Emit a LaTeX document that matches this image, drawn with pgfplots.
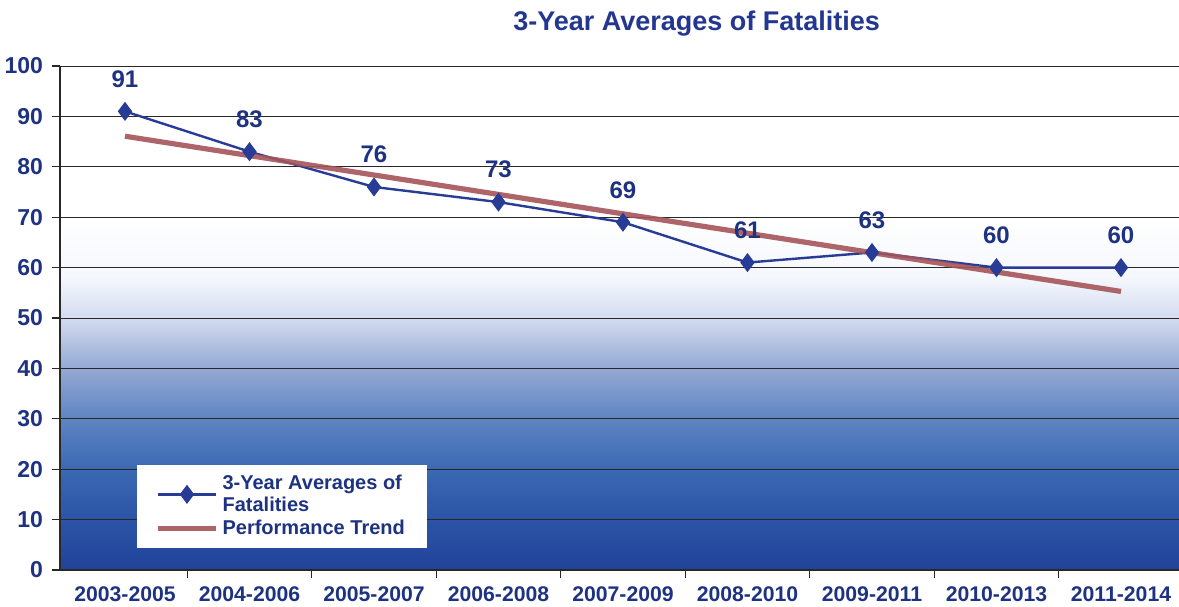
\documentclass[border=0pt]{standalone}
\usepackage{fontspec}
\setmainfont{Liberation Sans}
\usepackage{pgfplots}
\pgfplotsset{compat=1.18}

\definecolor{navy}{RGB}{30,50,130}
\definecolor{titleblue}{RGB}{35,55,145}
\definecolor{avgline}{RGB}{40,60,150}
\definecolor{trendred}{RGB}{165,85,90}
\definecolor{gridc}{RGB}{40,40,40}

% background fades from white (top) to deep blue (bottom); path maps to 25bp..75bp
\pgfdeclareverticalshading{bgfade}{100bp}{%
  rgb(0bp)=(0.13,0.26,0.60); rgb(25bp)=(0.13,0.26,0.60);
  rgb(30bp)=(0.17,0.33,0.65); rgb(35bp)=(0.23,0.41,0.70);
  rgb(40bp)=(0.37,0.52,0.76); rgb(45bp)=(0.58,0.66,0.83);
  rgb(50bp)=(0.83,0.86,0.94); rgb(54bp)=(0.96,0.97,0.99);
  rgb(60bp)=(1,1,1); rgb(100bp)=(1,1,1)}

\begin{document}
\begin{tikzpicture}
\begin{axis}[
  scale only axis,
  width=559.5pt, height=252pt,
  xmin=-0.522, xmax=8.466,
  ymin=0, ymax=100,
  axis lines*=left,
  axis line style={gridc, line width=0.6pt},
  axis background/.style={shade, shading=bgfade},
  xtick={0,...,8},
  xticklabels={2003-2005,2004-2006,2005-2007,2006-2008,2007-2009,2008-2010,2009-2011,2010-2013,2011-2014},
  major x tick style={draw=none},
  minor xtick={0.5,1.5,...,7.5},
  minor x tick style={gridc, line width=0.6pt},
  minor tick length=4pt,
  ytick={0,10,...,100},
  major tick length=4pt,
  tick align=outside,
  y tick style={gridc, line width=0.6pt},
  ymajorgrids=true,
  grid style={gridc, line width=0.5pt},
  /pgf/number format/assume math mode=true,
  tick label style={font=\bfseries, text=navy},
  yticklabel style={font=\fontsize{11.5}{13}\selectfont\bfseries, xshift=-1pt},
  xticklabel style={font=\fontsize{10.6}{12}\selectfont\bfseries, yshift=-1pt},
  title={3-Year Averages of Fatalities},
  title style={at={(axis description cs:0.569,1)}, anchor=center, yshift=15pt,
    font=\fontsize{13.5}{15}\selectfont\bfseries, text=titleblue},
  legend style={at={(axis description cs:0.0688,0.0437)}, anchor=south west,
    fill=white, draw=none, font=\fontsize{10}{11}\selectfont\bfseries,
    text=navy, cells={align=left}, inner xsep=9pt, inner ysep=3pt,
    row sep=-1pt},
  legend cell align=left,
  legend image code/.code={%
    \draw[mark repeat=2, mark phase=2, #1]
      plot coordinates {(0pt,0pt) (14.5pt,0pt) (29pt,0pt)};},
]
\addplot[color=avgline, line width=1.2pt, mark=diamond*, mark size=3.8pt,
  mark options={fill=avgline, draw=avgline},
  nodes near coords,
  nodes near coords style={anchor=south, yshift=8pt,
    font=\fontsize{12}{14}\selectfont\bfseries, text=navy},
  point meta=explicit symbolic]
  coordinates {
    (0,91) [91]
    (1,83) [83]
    (2,76) [76]
    (3,73) [73]
    (4,69) [69]
    (5,61) [61]
    (6,63) [63]
    (7,60) [60]
    (8,60) [60]
  };
\addlegendentry{3-Year Averages of\\Fatalities}
\addplot[color=trendred, line width=2.6pt, opacity=0.9]
  coordinates {
    (0,86.07)
    (8,55.27)
  };
\addlegendentry{Performance Trend}
\end{axis}
\pgfresetboundingbox
\path[use as bounding box] (-30pt,-18pt) rectangle (559.5pt,285pt);
\end{tikzpicture}
\end{document}
